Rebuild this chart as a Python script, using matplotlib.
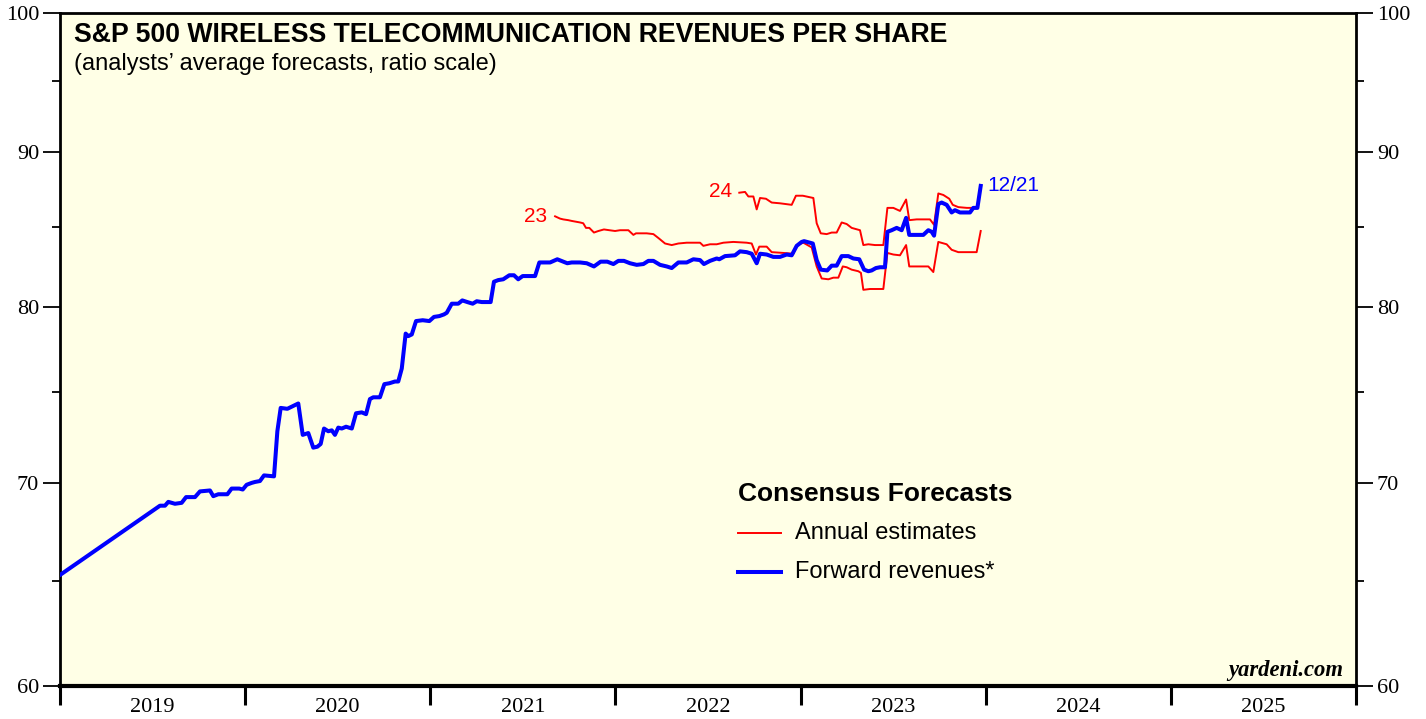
import matplotlib
matplotlib.use("Agg")
import matplotlib.pyplot as plt
from matplotlib.ticker import FixedLocator, NullFormatter

# ---------------- data (decimal years, revenues per share) ----------------
fwd_t = [2019.004, 2019.540, 2019.567, 2019.585, 2019.621, 2019.657, 2019.681, 2019.729,
         2019.756, 2019.810, 2019.828, 2019.855, 2019.904, 2019.927, 2019.968, 2019.987,
         2020.008, 2020.035, 2020.053, 2020.080, 2020.102, 2020.156, 2020.174, 2020.192,
         2020.228, 2020.287, 2020.311, 2020.341, 2020.368, 2020.390, 2020.408, 2020.426,
         2020.449, 2020.468, 2020.485, 2020.503, 2020.522, 2020.545, 2020.576, 2020.599,
         2020.630, 2020.653, 2020.674, 2020.692, 2020.728, 2020.752, 2020.779, 2020.809,
         2020.827, 2020.846, 2020.867, 2020.881, 2020.900, 2020.923, 2020.959, 2020.995,
         2021.020, 2021.049, 2021.074, 2021.089, 2021.116, 2021.151, 2021.173, 2021.200,
         2021.229, 2021.251, 2021.278, 2021.326, 2021.344, 2021.367, 2021.394, 2021.427,
         2021.452, 2021.475, 2021.499, 2021.539, 2021.566, 2021.589, 2021.647, 2021.686,
         2021.740, 2021.764, 2021.809, 2021.845, 2021.884, 2021.920, 2021.956, 2021.989,
         2022.016, 2022.046, 2022.079, 2022.115, 2022.151, 2022.178, 2022.205, 2022.241,
         2022.277, 2022.304, 2022.340, 2022.385, 2022.421, 2022.457, 2022.478, 2022.511,
         2022.547, 2022.561, 2022.592, 2022.646, 2022.673, 2022.709, 2022.736, 2022.763,
         2022.781, 2022.817, 2022.853, 2022.889, 2022.925, 2022.952, 2022.979, 2023.006,
         2023.019, 2023.066, 2023.087, 2023.109, 2023.144, 2023.168, 2023.195, 2023.222,
         2023.258, 2023.285, 2023.317, 2023.343, 2023.366, 2023.384, 2023.407, 2023.429,
         2023.456, 2023.469, 2023.492, 2023.519, 2023.546, 2023.570, 2023.587, 2023.618,
         2023.663, 2023.690, 2023.708, 2023.721, 2023.744, 2023.762, 2023.789, 2023.816,
         2023.834, 2023.861, 2023.915, 2023.933, 2023.955, 2023.973]
fwd_v = [65.3, 68.8, 68.8, 69.0, 68.9, 68.95, 69.25, 69.25,
         69.55, 69.6, 69.3, 69.4, 69.4, 69.7, 69.7, 69.65,
         69.9, 70.0, 70.05, 70.1, 70.4, 70.35, 72.8, 74.1,
         74.05, 74.35, 72.6, 72.7, 71.9, 71.95, 72.1, 72.95,
         72.8, 72.85, 72.6, 73.0, 72.95, 73.05, 72.95, 73.8,
         73.85, 73.75, 74.6, 74.7, 74.7, 75.45, 75.5, 75.6,
         75.6, 76.35, 78.4, 78.25, 78.35, 79.15, 79.2, 79.15,
         79.4, 79.45, 79.55, 79.65, 80.2, 80.2, 80.4, 80.3,
         80.2, 80.35, 80.3, 80.3, 81.55, 81.65, 81.7, 81.95,
         81.95, 81.7, 81.9, 81.9, 81.9, 82.75, 82.75, 82.95,
         82.7, 82.75, 82.75, 82.7, 82.5, 82.8, 82.8, 82.65,
         82.85, 82.85, 82.7, 82.6, 82.65, 82.85, 82.85, 82.6,
         82.5, 82.4, 82.75, 82.75, 82.95, 82.9, 82.65, 82.85,
         83.0, 82.95, 83.15, 83.2, 83.45, 83.4, 83.3, 82.7,
         83.3, 83.25, 83.1, 83.1, 83.25, 83.2, 83.8, 84.05,
         84.1, 83.95, 82.9, 82.3, 82.25, 82.55, 82.55, 83.15,
         83.15, 83.0, 82.95, 82.3, 82.2, 82.25, 82.4, 82.45,
         82.45, 84.7, 84.8, 84.95, 84.8, 85.6, 84.5, 84.5,
         84.5, 84.8, 84.7, 84.45, 86.5, 86.6, 86.45, 85.95,
         86.1, 85.95, 85.95, 86.25, 86.25, 87.7]

est23_t = [2021.674, 2021.701, 2021.718, 2021.745, 2021.764, 2021.809, 2021.826, 2021.841,
           2021.859, 2021.884, 2021.908, 2021.938, 2021.967, 2021.998, 2022.025, 2022.070,
           2022.097, 2022.111, 2022.169, 2022.205, 2022.232, 2022.268, 2022.304, 2022.340,
           2022.385, 2022.457, 2022.475, 2022.511, 2022.547, 2022.583, 2022.637, 2022.709,
           2022.736, 2022.759, 2022.777, 2022.817, 2022.844, 2022.907, 2022.961, 2022.979,
           2023.015, 2023.060, 2023.087, 2023.114, 2023.150, 2023.177, 2023.204, 2023.228,
           2023.249, 2023.276, 2023.312, 2023.326, 2023.339, 2023.375, 2023.411, 2023.447,
           2023.469, 2023.501, 2023.537, 2023.570, 2023.587, 2023.636, 2023.690, 2023.717,
           2023.744, 2023.789, 2023.816, 2023.852, 2023.898, 2023.951, 2023.973]
est23_v = [85.7, 85.55, 85.5, 85.45, 85.4, 85.3, 85.25, 84.95,
           84.95, 84.65, 84.75, 84.85, 84.8, 84.75, 84.8, 84.8,
           84.5, 84.6, 84.6, 84.55, 84.3, 83.95, 83.85, 83.95,
           84.0, 84.0, 83.8, 83.9, 83.9, 84.0, 84.05, 84.0,
           83.95, 83.25, 83.75, 83.75, 83.4, 83.35, 83.3, 83.85,
           84.0, 83.7, 82.5, 81.75, 81.7, 81.8, 81.8, 82.5,
           82.45, 82.3, 82.2, 82.1, 81.05, 81.1, 81.1, 81.1,
           83.35, 83.25, 83.2, 83.85, 82.5, 82.5, 82.5, 82.15,
           84.05, 83.9, 83.55, 83.4, 83.4, 83.4, 84.75]

est24_t = [2022.669, 2022.700, 2022.718, 2022.745, 2022.763, 2022.781, 2022.813, 2022.844,
           2022.889, 2022.952, 2022.975, 2023.012, 2023.069, 2023.087, 2023.109, 2023.141,
           2023.168, 2023.195, 2023.222, 2023.249, 2023.276, 2023.321, 2023.339, 2023.366,
           2023.402, 2023.447, 2023.469, 2023.501, 2023.537, 2023.570, 2023.587, 2023.627,
           2023.699, 2023.721, 2023.744, 2023.771, 2023.803, 2023.822, 2023.852, 2023.898,
           2023.933, 2023.951]
est24_v = [87.25, 87.3, 87.0, 87.0, 86.15, 86.9, 86.85, 86.6,
           86.55, 86.45, 87.05, 87.05, 86.9, 85.25, 84.6, 84.55,
           84.65, 84.65, 85.3, 85.2, 84.95, 84.8, 83.85, 83.9,
           83.85, 83.85, 86.25, 86.25, 86.05, 86.8, 85.45, 85.5,
           85.5, 85.15, 87.2, 87.1, 86.85, 86.45, 86.3, 86.25,
           86.25, 86.3]

years = [2019, 2020, 2021, 2022, 2023, 2024, 2025]
y_major = [60, 70, 80, 90, 100]
y_minor = [65, 75, 85, 95]

title = "S&P 500 WIRELESS TELECOMMUNICATION REVENUES PER SHARE"
subtitle = "(analysts\u2019 average forecasts, ratio scale)"

# ---------------- figure ----------------
W, H = 1426, 719
fig = plt.figure(figsize=(W / 100, H / 100), dpi=100)
fig.patch.set_facecolor("white")
ax = fig.add_axes([60 / W, 1 - 686 / H, (1356 - 60) / W, (686 - 13) / H])
ax.set_facecolor("#FFFFE6")

RED = "#FF0000"
BLUE = "#0000FF"

ax.plot(est23_t, est23_v, color=RED, lw=1.4, zorder=3)
ax.plot(est24_t, est24_v, color=RED, lw=1.4, zorder=3)
ax.plot(fwd_t, fwd_v, color=BLUE, lw=2.9, zorder=4, solid_joinstyle="round")

ax.set_yscale("log")
ax.set_ylim(60, 100)
ax.set_xlim(2019, 2026)

serif = "Liberation Serif"
sans = "Liberation Sans"

ax.yaxis.set_major_locator(FixedLocator(y_major))
ax.yaxis.set_minor_locator(FixedLocator(y_minor))
ax.yaxis.set_major_formatter(plt.FixedFormatter([str(v) for v in y_major]))
ax.yaxis.set_minor_formatter(NullFormatter())
ax.tick_params(axis="y", which="major", direction="out", length=12, width=1.3,
               left=True, right=True, labelleft=True, labelright=True, labelsize=16, pad=3)
ax.tick_params(axis="y", which="minor", direction="out", length=6, width=1.3,
               left=True, right=True)
for lab in ax.get_yticklabels():
    lab.set_fontfamily(serif)

ax.xaxis.set_major_locator(FixedLocator(years + [2026]))
ax.xaxis.set_major_formatter(NullFormatter())
ax.xaxis.set_minor_locator(FixedLocator([y + 0.5 for y in years]))
ax.xaxis.set_minor_formatter(plt.FixedFormatter([str(y) for y in years]))
ax.tick_params(axis="x", which="major", direction="out", length=14, width=2.2)
ax.tick_params(axis="x", which="minor", length=0, labelsize=16, pad=9)
for lab in ax.get_xticklabels(minor=True):
    lab.set_fontfamily(serif)

for side in ["left", "right", "top"]:
    ax.spines[side].set_linewidth(2.0)
ax.spines["bottom"].set_linewidth(3.0)

# titles
ax.text(0.011, 0.986, title, transform=ax.transAxes, fontsize=19.2, fontweight="bold",
        family=sans, va="top", ha="left")
ax.text(0.011, 0.941, subtitle, transform=ax.transAxes, fontsize=17,
        family=sans, va="top", ha="left")

# series labels
ax.text(2021.63, 85.7, "23", color=RED, fontsize=15, family=sans, ha="right", va="center")
ax.text(2022.63, 87.3, "24", color=RED, fontsize=15, family=sans, ha="right", va="center")
ax.text(2024.01, 87.7, "12/21", color=BLUE, fontsize=15, family=sans, ha="left", va="center")

# legend
ax.text(0.523, 0.285, "Consensus Forecasts", transform=ax.transAxes, fontsize=19,
        fontweight="bold", family=sans, va="center", ha="left")
ax.plot([0.523, 0.556], [0.228, 0.228], transform=ax.transAxes, color=RED, lw=1.4)
ax.plot([0.523, 0.556], [0.169, 0.169], transform=ax.transAxes, color=BLUE, lw=2.9)
ax.text(0.567, 0.228, "Annual estimates", transform=ax.transAxes, fontsize=17,
        family=sans, va="center", ha="left")
ax.text(0.567, 0.169, "Forward revenues*", transform=ax.transAxes, fontsize=17,
        family=sans, va="center", ha="left")

ax.text(0.99, 0.008, "yardeni.com", transform=ax.transAxes, fontsize=16.3,
        fontweight="bold", fontstyle="italic", family=serif, va="bottom", ha="right")

fig.savefig("out.png", dpi=100)
